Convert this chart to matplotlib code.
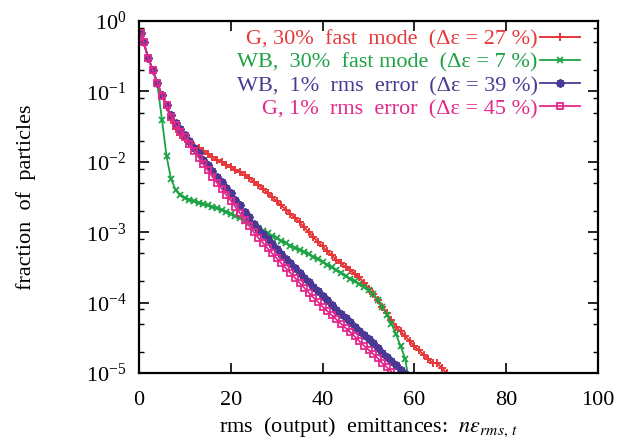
import numpy as np
import matplotlib
matplotlib.use("Agg")
import matplotlib.pyplot as plt
from matplotlib.ticker import LogLocator, FixedLocator, NullFormatter

plt.rcParams['font.family'] = ['Liberation Serif', 'DejaVu Serif']
plt.rcParams['mathtext.fontset'] = 'stix'

# emittance values and log10(fraction of particles)
x_g_fast = [0.5] + list(range(1, 68))
g_fast_log = [-0.17, -0.30, -0.52, -0.70, -0.88, -1.06, -1.22, -1.40, -1.53, -1.62,
              -1.68, -1.73, -1.77, -1.81, -1.85, -1.89, -1.93, -1.97, -2.00, -2.04,
              -2.07, -2.11, -2.15, -2.19, -2.23, -2.28, -2.33, -2.38, -2.44, -2.50,
              -2.56, -2.62, -2.68, -2.74, -2.80, -2.86, -2.93, -3.00, -3.07, -3.14,
              -3.20, -3.27, -3.33, -3.39, -3.44, -3.49, -3.54, -3.59, -3.64, -3.72,
              -3.80, -3.88, -3.97, -4.06, -4.15, -4.25, -4.34, -4.41, -4.48, -4.55,
              -4.62, -4.68, -4.74, -4.80, -4.86, -4.86, -4.93, -5.00]

x_wb_fast = [0.5] + list(range(1, 60))
wb_fast_log = [-0.17, -0.30, -0.52, -0.70, -0.90, -1.40, -1.92, -2.25, -2.40, -2.47,
               -2.51, -2.54, -2.56, -2.58, -2.60, -2.62, -2.64, -2.66, -2.69, -2.71,
               -2.74, -2.77, -2.80, -2.84, -2.87, -2.91, -2.94, -2.98, -3.01, -3.05,
               -3.08, -3.12, -3.15, -3.19, -3.22, -3.25, -3.28, -3.31, -3.35, -3.38,
               -3.42, -3.46, -3.50, -3.54, -3.58, -3.62, -3.66, -3.70, -3.74, -3.78,
               -3.82, -3.88, -3.96, -4.06, -4.18, -4.30, -4.45, -4.62, -4.80, -5.20]

x_wb_rms = [0.5] + list(range(1, 59))
wb_rms_log = [-0.17, -0.30, -0.52, -0.70, -0.88, -1.05, -1.19, -1.34, -1.45, -1.54,
              -1.62, -1.71, -1.80, -1.88, -1.97, -2.05, -2.13, -2.21, -2.29, -2.37,
              -2.45, -2.54, -2.62, -2.71, -2.79, -2.88, -2.95, -3.02, -3.10, -3.17,
              -3.24, -3.31, -3.38, -3.44, -3.51, -3.58, -3.65, -3.71, -3.78, -3.84,
              -3.91, -3.97, -4.03, -4.10, -4.16, -4.22, -4.28, -4.34, -4.40, -4.46,
              -4.52, -4.58, -4.64, -4.71, -4.77, -4.83, -4.89, -4.96, -5.02]

x_g_rms = [0.5] + list(range(1, 56))
g_rms_log = [-0.17, -0.30, -0.53, -0.70, -0.88, -1.06, -1.20, -1.36, -1.48, -1.57,
             -1.65, -1.75, -1.84, -1.94, -2.03, -2.12, -2.21, -2.30, -2.38, -2.47,
             -2.55, -2.64, -2.73, -2.82, -2.91, -3.00, -3.08, -3.15, -3.23, -3.30,
             -3.37, -3.44, -3.51, -3.58, -3.65, -3.72, -3.79, -3.86, -3.93, -3.99,
             -4.06, -4.12, -4.18, -4.24, -4.30, -4.36, -4.42, -4.48, -4.55, -4.61,
             -4.67, -4.73, -4.79, -4.86, -4.92, -4.98]

labels = ['G, 30%  fast  mode  (Δε = 27 %)',
          'WB,  30%  fast mode  (Δε = 7 %)',
          'WB,  1%  rms  error  (Δε = 39 %)',
          'G, 1%  rms  error  (Δε = 45 %)']
colors = ['#e6383a', '#1ba343', '#4b3894', '#e4288c']

fig = plt.figure(figsize=(6.27, 4.43), dpi=100)
ax = fig.add_axes([139/627, 1 - 373/443, 459/627, 352/443])

ax.plot(x_g_fast, 10 ** np.array(g_fast_log), color=colors[0], lw=1.4,
        marker='+', ms=6, mew=1.4, label=labels[0])
ax.plot(x_wb_fast, 10 ** np.array(wb_fast_log), color=colors[1], lw=1.3,
        marker='x', ms=5, mew=1.3, label=labels[1])
ax.plot(x_wb_rms, 10 ** np.array(wb_rms_log), color=colors[2], lw=1.3,
        marker=(8, 2, 0), ms=6, mew=1.4, label=labels[2])
ax.plot(x_g_rms, 10 ** np.array(g_rms_log), color=colors[3], lw=1.3,
        marker='s', ms=4.5, mew=1.3, mfc='none', label=labels[3])

ax.set_yscale('log')
ax.set_xlim(0, 100)
ax.set_ylim(1e-5, 1)
ax.xaxis.set_major_locator(FixedLocator([0, 20, 40, 60, 80, 100]))
ax.yaxis.set_major_locator(LogLocator(base=10, numticks=10))
ax.yaxis.set_minor_locator(LogLocator(base=10, subs=(2, 5, 8), numticks=10))
ax.yaxis.set_minor_formatter(NullFormatter())
ax.tick_params(which='both', direction='in', top=True, right=True, labelsize=16)
ax.tick_params(which='major', length=7, width=1.2)
ax.tick_params(which='minor', length=3.5, width=1.0)
ax.tick_params(axis='x', which='major', pad=13)
ax.tick_params(axis='y', which='major', pad=9)
for s in ax.spines.values():
    s.set_linewidth(1.6)

ax.set_xlabel(r'rms  (output)  emittances:  $n\varepsilon_{rms,\,t}$', fontsize=16, labelpad=4)
ax.set_ylabel('fraction  of  particles', fontsize=16, labelpad=36)

leg = ax.legend(loc='upper right', bbox_to_anchor=(580/627, 1 - 29/443),
                bbox_transform=fig.transFigure, frameon=False, markerfirst=False,
                labelcolor='linecolor', fontsize=16, handlelength=1.8,
                handletextpad=0.1, labelspacing=0.12, borderpad=0, borderaxespad=0)

plt.savefig('out.png', dpi=100)
